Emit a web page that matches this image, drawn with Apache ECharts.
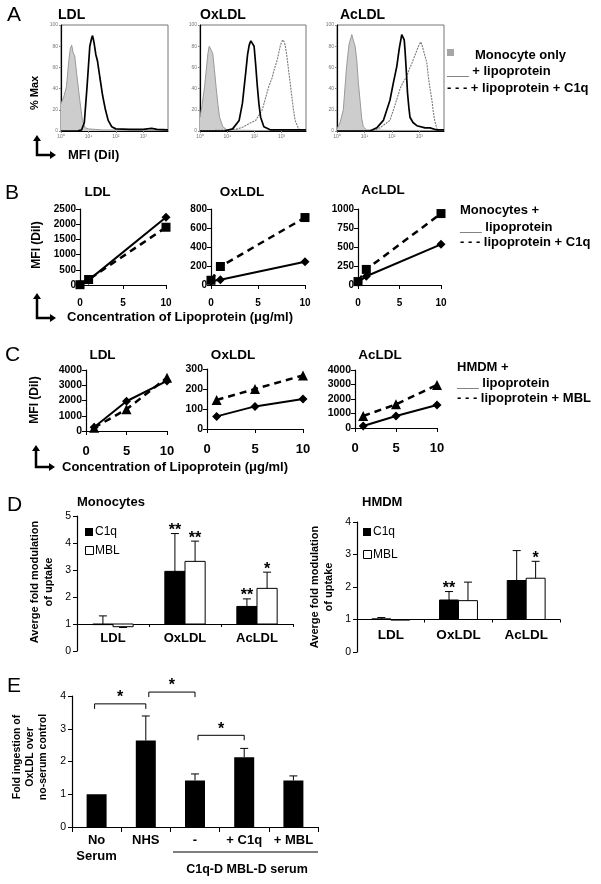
<!DOCTYPE html>
<html><head><meta charset="utf-8">
<script src="https://cdn.jsdelivr.net/npm/echarts@6/dist/echarts.min.js"></script>
<style>html,body{margin:0;padding:0;background:#fff}#c{width:601px;height:884px}</style>
</head><body><div id="c"></div>
<script>
// ---------- Panel A: flow histograms, x = log10(MFI DiI), y = % of max ----------
const aLdlMono = [[0,26],[0.1,32],[0.2,42],[0.28,65],[0.34,78],[0.39,81],[0.44,74],[0.5,71],[0.58,52],[0.68,30],[0.78,10],[0.88,3],[1.0,2],[1.5,1],[2.0,1],[3.0,0.5],[3.9,0.5]];
const aLdlLipo = [[0,0],[0.6,0],[0.75,1],[0.85,8],[0.95,42],[1.05,80],[1.12,88],[1.15,90],[1.2,84],[1.27,72],[1.33,66],[1.42,50],[1.52,33],[1.62,20],[1.72,10],[1.85,4],[2.0,2],[2.5,1.5],[3.0,1.5],[3.3,2.5],[3.5,1.5],[3.9,1]];
const aOxMono = [[0,13],[0.08,25],[0.17,42],[0.29,73],[0.34,80],[0.38,81],[0.42,76],[0.47,73],[0.53,58],[0.59,42],[0.66,25],[0.72,13],[0.84,4],[1.0,1],[2,0.5],[3.9,0.5]];
const aOxLipo = [[0,0],[0.9,0],[1.2,2],[1.44,10],[1.56,26],[1.69,57],[1.75,72],[1.81,81],[1.87,85],[1.93,84],[1.99,80],[2.05,62],[2.11,42],[2.17,25],[2.23,13],[2.35,4],[2.6,1],[3.9,1]];
const aOxC1q = [[0,0],[1.0,1],[1.4,2],[1.6,4],[1.81,7],[2.05,10],[2.29,20],[2.4,30],[2.53,42],[2.65,50],[2.72,57],[2.84,67],[2.96,81],[3.04,86],[3.1,84],[3.14,80],[3.2,70],[3.26,57],[3.32,45],[3.38,32],[3.44,20],[3.5,10],[3.63,2],[3.75,0]];
const aAcMono = [[0,2],[0.11,8],[0.23,20],[0.35,61],[0.44,82],[0.54,91],[0.6,85],[0.66,80],[0.72,67],[0.78,45],[0.84,29],[0.9,12],[0.96,4],[1.08,1],[2,0.5],[3.9,0.5]];
const aAcLipo = [[0,0],[1.2,0],[1.45,3],[1.69,10],[1.93,29],[2.05,45],[2.18,61],[2.27,78],[2.36,91],[2.4,92],[2.45,86],[2.48,76],[2.53,55],[2.57,36],[2.62,22],[2.66,13],[2.77,8],[2.91,5],[3.21,3],[3.39,3],[3.64,1],[3.9,1]];
const aAcC1q = [[0,0],[1.3,0],[1.57,3],[1.93,10],[2.12,25],[2.3,40],[2.41,46],[2.54,51],[2.63,58],[2.73,64],[2.85,72],[2.97,80],[3.05,84],[3.1,81],[3.15,76],[3.27,65],[3.33,51],[3.39,40],[3.46,29],[3.51,18],[3.56,10],[3.64,2],[3.76,0]];
const histYTicks = [0,20,40,60,80,100];
const histXTickLabels = ['10\u2070','10\u00b9','10\u00b2','10\u00b3'];

// ---------- Panel B: monocytes, MFI vs concentration ----------
const bX = [0, 1, 10];
const bLdlLipo = [20, 160, 2230];
const bLdlC1q  = [10, 180, 1900];
const bOxLipo  = [40, 55, 245];
const bOxC1q   = [50, 195, 710];
const bAcLipo  = [35, 115, 535];
const bAcC1q   = [45, 205, 940];

// ---------- Panel C: HMDM, MFI vs concentration ----------
const cX = [1, 5, 10];
const cLdlLipo = [250, 1950, 3280];
const cLdlMbl  = [220, 1420, 3500];
const cOxLipo  = [63, 113, 150];
const cOxMbl   = [145, 200, 268];
const cAcLipo  = [140, 830, 1590];
const cAcMbl   = [830, 1630, 2970];

// ---------- Panel D: average fold modulation ----------
const dCats = ['LDL', 'OxLDL', 'AcLDL'];
const monoC1q = [1.0, 2.95, 1.65];
const monoC1qErr = [0.3, 1.4, 0.28];
const monoMbl = [0.9, 3.32, 2.32];
const monoMblErr = [0.03, 0.75, 0.6];
const monoC1qStars = ['', '**', '**'];
const monoMblStars = ['', '**', '*'];
const hmdmC1q = [1.02, 1.6, 2.2];
const hmdmC1qErr = [0.04, 0.26, 0.92];
const hmdmMbl = [1.0, 1.58, 2.27];
const hmdmMblErr = [0, 0.57, 0.52];
const hmdmC1qStars = ['', '**', ''];
const hmdmMblStars = ['', '', '*'];

// ---------- Panel E: fold ingestion ----------
const eCats = ['No\nSerum', 'NHS', '-', '+ C1q', '+ MBL'];
const eVals = [1.0, 2.64, 1.42, 2.13, 1.42];
const eErrs = [0, 0.75, 0.2, 0.27, 0.14];
const eBrackets = [[0, 1, 3.76], [1, 2, 4.12], [2, 3, 2.8]];
const eBracketStars = ['*', '*', '*'];

const FA = '"Liberation Sans", Arial, sans-serif';
const zip = (xs, ys) => xs.map((x, i) => [x, ys[i]]);

const grids = [], xAxes = [], yAxes = [], series = [];

function axis(gi, min, max, interval, lab, extra) {
  return Object.assign({
    gridIndex: gi, type: 'value', min, max, interval,
    splitLine: {show: false},
    axisLine: {show: true, onZero: false, lineStyle: {color: '#000', width: 1.2}},
    axisTick: {show: true, length: 4, lineStyle: {color: '#000', width: 1}},
    axisLabel: Object.assign({color: '#000', fontFamily: FA, fontWeight: 'bold', fontSize: 10, margin: 5, formatter: v => String(v)}, lab || {})
  }, extra || {});
}

// ---- A ----
function hist(left, width, curves) {
  const gi = grids.length;
  grids.push({left, top: 25, width, height: 106, show: true, borderColor: '#777', borderWidth: 1});
  const small = {fontSize: 5, fontWeight: 'normal', color: '#777', margin: 3};
  xAxes.push(axis(gi, 0, 3.9, 1, Object.assign({}, small, {showMaxLabel: false, formatter: v => histXTickLabels[Math.round(v)] || ''}),
    {axisTick: {show: true, length: 2, lineStyle: {color: '#888'}}}));
  yAxes.push(axis(gi, 0, 100, 20, Object.assign({}, small, {formatter: v => histYTicks.includes(v) ? String(v) : ''}),
    {axisTick: {show: true, length: 2, lineStyle: {color: '#888'}}}));
  series.push({type: 'line', xAxisIndex: gi, yAxisIndex: gi, data: curves[0], symbol: 'none',
    lineStyle: {color: '#999', width: 1}, areaStyle: {color: '#cdcdcd', opacity: 1}, z: 2});
  if (curves[2]) series.push({type: 'line', xAxisIndex: gi, yAxisIndex: gi, data: curves[2], symbol: 'none',
    lineStyle: {color: '#7a7a7a', width: 1.1, type: [2, 1]}, z: 3});
  series.push({type: 'line', xAxisIndex: gi, yAxisIndex: gi, data: curves[1], symbol: 'none',
    lineStyle: {color: '#000', width: 1.7}, z: 4});
}
hist(61, 107, [aLdlMono, aLdlLipo]);
hist(200, 106, [aOxMono, aOxLipo, aOxC1q]);
hist(337, 107, [aAcMono, aAcLipo, aAcC1q]);

// ---- B & C ----
function xyPanel(box, ymax, yint, xs, solid, dashed, dashSym, xLab, yLab) {
  const gi = grids.length;
  grids.push({left: box[0], top: box[1], width: box[2], height: box[3]});
  xAxes.push(axis(gi, 0, 10, 5, xLab));
  yAxes.push(axis(gi, 0, ymax, yint, yLab));
  series.push({type: 'line', xAxisIndex: gi, yAxisIndex: gi, data: zip(xs, dashed), symbol: dashSym,
    symbolSize: dashSym === 'triangle' ? 10 : 9, itemStyle: {color: '#000'},
    lineStyle: {color: '#000', width: 2.5, type: [7, 5]}, z: 3});
  series.push({type: 'line', xAxisIndex: gi, yAxisIndex: gi, data: zip(xs, solid), symbol: 'diamond',
    symbolSize: 9, itemStyle: {color: '#000'}, lineStyle: {color: '#000', width: 2}, z: 4});
}
const bXL = {fontSize: 10, margin: 13}, bYL = {fontSize: 10, margin: 4};
xyPanel([80, 209, 86, 76], 2500, 500, bX, bLdlLipo, bLdlC1q, 'rect', bXL, bYL);
xyPanel([211, 209, 94, 76], 800, 200, bX, bOxLipo, bOxC1q, 'rect', bXL, bYL);
xyPanel([358, 209, 83, 76], 1000, 250, bX, bAcLipo, bAcC1q, 'rect', bXL, bYL);
const cXL = {fontSize: 13, margin: 14}, cYL = {fontSize: 10.5, margin: 4};
xyPanel([86, 370, 81, 61], 4000, 1000, cX, cLdlLipo, cLdlMbl, 'triangle', cXL, cYL);
xyPanel([207, 369, 96, 60], 300, 100, cX, cOxLipo, cOxMbl, 'triangle', cXL, cYL);
xyPanel([355, 370, 82, 58], 4000, 1000, cX, cAcLipo, cAcMbl, 'triangle', cXL, cYL);

// ---- D ----
function makeBarRender(vals, errs, stars, side, fill) {
  return function (params, api) {
    const i = params.dataIndex;
    const band = api.size([1, 0])[0];
    const bw = band * 0.28;
    const base = api.coord([i, 1]);
    const cx = base[0] + side * bw / 2;
    const v = vals[i], e = errs[i];
    const yv = api.coord([i, v])[1];
    const dir = v >= 1 ? 1 : -1;
    const ye = api.coord([i, v + dir * e])[1];
    const ch = [];
    ch.push({type: 'rect', shape: {x: cx - bw / 2, y: Math.min(base[1], yv), width: bw, height: Math.max(Math.abs(yv - base[1]), 0.6)},
      style: {fill, stroke: '#000', lineWidth: 1}});
    if (e > 0) {
      ch.push({type: 'line', shape: {x1: cx, y1: yv, x2: cx, y2: ye}, style: {stroke: '#000', lineWidth: 1}});
      ch.push({type: 'line', shape: {x1: cx - 4, y1: ye, x2: cx + 4, y2: ye}, style: {stroke: '#000', lineWidth: 1}});
    }
    if (stars[i]) ch.push({type: 'text', style: {text: stars[i], x: cx, y: ye - 3, align: 'center', verticalAlign: 'middle',
      font: 'bold 16px ' + FA, fill: '#000'}});
    return {type: 'group', children: ch};
  };
}
function dPanel(box, ymax, unitPx, c1q, c1qErr, c1qSt, mbl, mblErr, mblSt, labMargin, labSize) {
  const gi = grids.length;
  grids.push({left: box[0], top: box[1], width: box[2], height: box[3]});
  xAxes.push({gridIndex: gi, type: 'category', data: dCats, offset: -unitPx,
    axisLine: {show: true, onZero: false, lineStyle: {color: '#000', width: 1}},
    axisTick: {show: true, length: 3, lineStyle: {color: '#000'}},
    axisLabel: {color: '#000', fontFamily: FA, fontWeight: 'bold', fontSize: labSize, margin: labMargin}});
  yAxes.push(axis(gi, 0, ymax, 1, {fontWeight: 'normal', fontSize: 10.5, margin: 6}));
  series.push({type: 'custom', xAxisIndex: gi, yAxisIndex: gi, data: dCats.map((c, i) => [i, c1q[i]]),
    renderItem: makeBarRender(c1q, c1qErr, c1qSt, -1, '#000'), z: 3});
  series.push({type: 'custom', xAxisIndex: gi, yAxisIndex: gi, data: dCats.map((c, i) => [i, mbl[i]]),
    renderItem: makeBarRender(mbl, mblErr, mblSt, 1, '#fff'), z: 3});
}
dPanel([77, 516, 216, 135], 5, 27, monoC1q, monoC1qErr, monoC1qStars, monoMbl, monoMblErr, monoMblStars, 8, 13);
dPanel([357, 522, 203, 130], 4, 32.5, hmdmC1q, hmdmC1qErr, hmdmC1qStars, hmdmMbl, hmdmMblErr, hmdmMblStars, 9, 13.5);

// ---- E ----
(function () {
  const gi = grids.length;
  grids.push({left: 72, top: 696, width: 246, height: 131});
  xAxes.push({gridIndex: gi, type: 'category', data: eCats,
    axisLine: {show: true, lineStyle: {color: '#000', width: 1.2}},
    axisTick: {show: true, length: 5, lineStyle: {color: '#000'}},
    axisLabel: {color: '#000', fontFamily: FA, fontWeight: 'bold', fontSize: 13, lineHeight: 16, margin: 5, interval: 0}});
  yAxes.push(axis(gi, 0, 4, 1, {fontWeight: 'normal', fontSize: 10.5, margin: 6}));
  series.push({type: 'bar', xAxisIndex: gi, yAxisIndex: gi, data: eVals, barWidth: 20, itemStyle: {color: '#000'}, z: 2});
  series.push({type: 'custom', xAxisIndex: gi, yAxisIndex: gi, data: eVals.map((v, i) => [i, v]), z: 3,
    renderItem: function (params, api) {
      const i = params.dataIndex, e = eErrs[i];
      if (!(e > 0)) return {type: 'group', children: []};
      const p = api.coord([i, eVals[i]]), q = api.coord([i, eVals[i] + e]);
      return {type: 'group', children: [
        {type: 'line', shape: {x1: p[0], y1: p[1], x2: q[0], y2: q[1]}, style: {stroke: '#000', lineWidth: 1}},
        {type: 'line', shape: {x1: q[0] - 4, y1: q[1], x2: q[0] + 4, y2: q[1]}, style: {stroke: '#000', lineWidth: 1}}]};
    }});
  series.push({type: 'custom', xAxisIndex: gi, yAxisIndex: gi, data: eBrackets.map(b => [b[0], b[2]]), z: 3,
    renderItem: function (params, api) {
      const k = params.dataIndex, b = eBrackets[k];
      const p1 = api.coord([b[0], b[2]]), p2 = api.coord([b[1], b[2]]);
      const shared = eBrackets.some((o, j) => j < k && o[1] === b[0]);
      const x1 = p1[0] + (shared ? 3 : -2), x2 = p2[0];
      return {type: 'group', children: [
        {type: 'polyline', shape: {points: [[x1, p1[1] + 5], [x1, p1[1]], [x2, p1[1]], [x2, p1[1] + 5]]},
          style: {stroke: '#000', lineWidth: 1, fill: null}},
        {type: 'text', style: {text: eBracketStars[k], x: (x1 + x2) / 2, y: p1[1] - 6, align: 'center', verticalAlign: 'middle',
          font: 'bold 16px ' + FA, fill: '#000'}}]};
    }});
})();

// ---------- annotations ----------
function T(text, x, y, o) {
  o = o || {};
  return {type: 'text', x, y, rotation: o.rot || 0, z: 100,
    style: {text, font: o.font || ('bold 13px ' + FA), fill: '#000', align: o.align || 'left',
      verticalAlign: 'middle', lineHeight: o.lh}};
}
function arrowL(x, yTop, yCorner, xRight) {
  return [
    {type: 'polyline', z: 100, shape: {points: [[x, yTop + 5], [x, yCorner], [xRight - 5, yCorner]]}, style: {stroke: '#000', lineWidth: 2.5, fill: null}},
    {type: 'polygon', z: 100, shape: {points: [[x - 4, yTop + 6], [x + 4, yTop + 6], [x, yTop]]}, style: {fill: '#000'}},
    {type: 'polygon', z: 100, shape: {points: [[xRight - 6, yCorner - 4], [xRight - 6, yCorner + 4], [xRight, yCorner]]}, style: {fill: '#000'}}
  ];
}
const LET = '21px ' + FA;
const TT = 'bold 13.5px ' + FA;
const gfx = [
  T('A', 7, 15, {font: LET}), T('B', 5, 193, {font: LET}), T('C', 5, 355, {font: LET}),
  T('D', 7, 505, {font: LET}), T('E', 7, 686, {font: LET}),
  // A
  T('LDL', 58, 15, {font: 'bold 14px ' + FA}), T('OxLDL', 200, 15, {font: 'bold 14px ' + FA}), T('AcLDL', 340, 15, {font: 'bold 14px ' + FA}),
  T('% Max', 35, 93, {rot: Math.PI / 2, align: 'center', font: 'bold 11px ' + FA}),
  T('MFI (Dil)', 68, 155),
  {type: 'rect', z: 100, shape: {x: 447, y: 49, width: 7, height: 7}, style: {fill: '#a6a6a6'}},
  T('Monocyte only', 475, 55), T('___ + lipoprotein', 447, 71), T('- - - + lipoprotein + C1q', 447, 88),
  ...arrowL(37, 135, 155, 56),
  // B
  T('LDL', 97.5, 192, {align: 'center', font: TT}), T('OxLDL', 242, 192, {align: 'center', font: TT}), T('AcLDL', 383, 190, {align: 'center', font: TT}),
  T('MFI (Dil)', 37, 245, {rot: Math.PI / 2, align: 'center', font: 'bold 12px ' + FA}),
  T('Monocytes +', 460, 210), T('___ lipoprotein', 460, 227), T('- - - lipoprotein + C1q', 460, 242),
  ...arrowL(37, 293, 318, 56),
  T('Concentration of Lipoprotein (\u03bcg/ml)', 67, 317),
  // C
  T('LDL', 102.5, 355, {align: 'center', font: TT}), T('OxLDL', 233, 355, {align: 'center', font: TT}), T('AcLDL', 380, 355, {align: 'center', font: TT}),
  T('MFI (Dil)', 35, 400, {rot: Math.PI / 2, align: 'center', font: 'bold 12px ' + FA}),
  T('HMDM +', 457, 367), T('___ lipoprotein', 457, 383), T('- - - lipoprotein + MBL', 457, 398),
  ...arrowL(36, 445, 467, 55),
  T('Concentration of Lipoprotein (\u03bcg/ml)', 62, 467),
  // D
  T('Monocytes', 77, 502), T('HMDM', 362, 502),
  {type: 'rect', z: 100, shape: {x: 85, y: 528, width: 8, height: 8}, style: {fill: '#000'}},
  {type: 'rect', z: 100, shape: {x: 85.5, y: 546.5, width: 8, height: 8}, style: {fill: '#fff', stroke: '#000', lineWidth: 1}},
  T('C1q', 95, 532, {font: '12px ' + FA}), T('MBL', 95, 550.5, {font: '12px ' + FA}),
  {type: 'rect', z: 100, shape: {x: 363, y: 528, width: 8, height: 8}, style: {fill: '#000'}},
  {type: 'rect', z: 100, shape: {x: 363.5, y: 550.5, width: 8, height: 8}, style: {fill: '#fff', stroke: '#000', lineWidth: 1}},
  T('C1q', 373, 532, {font: '12px ' + FA}), T('MBL', 373, 554.5, {font: '12px ' + FA}),
  T('Averge fold modulation\nof uptake', 42, 582, {rot: Math.PI / 2, align: 'center', font: 'bold 11px ' + FA, lh: 14}),
  T('Averge fold modulation\nof uptake', 322, 587, {rot: Math.PI / 2, align: 'center', font: 'bold 11px ' + FA, lh: 14}),
  // E
  T('Fold ingestion of\nOxLDL over\nno-serum control', 30, 757, {rot: Math.PI / 2, align: 'center', font: 'bold 10.5px ' + FA, lh: 13}),
  {type: 'line', z: 100, shape: {x1: 173, y1: 852, x2: 318, y2: 852}, style: {stroke: '#000', lineWidth: 1.2}},
  T('C1q-D MBL-D serum', 247, 870, {align: 'center', font: 'bold 12.5px ' + FA})
];

const chart = echarts.init(document.getElementById('c'), null, {renderer: 'canvas'});
chart.setOption({
  animation: false,
  backgroundColor: '#fff',
  grid: grids, xAxis: xAxes, yAxis: yAxes, series,
  graphic: gfx
});
</script></body></html>
